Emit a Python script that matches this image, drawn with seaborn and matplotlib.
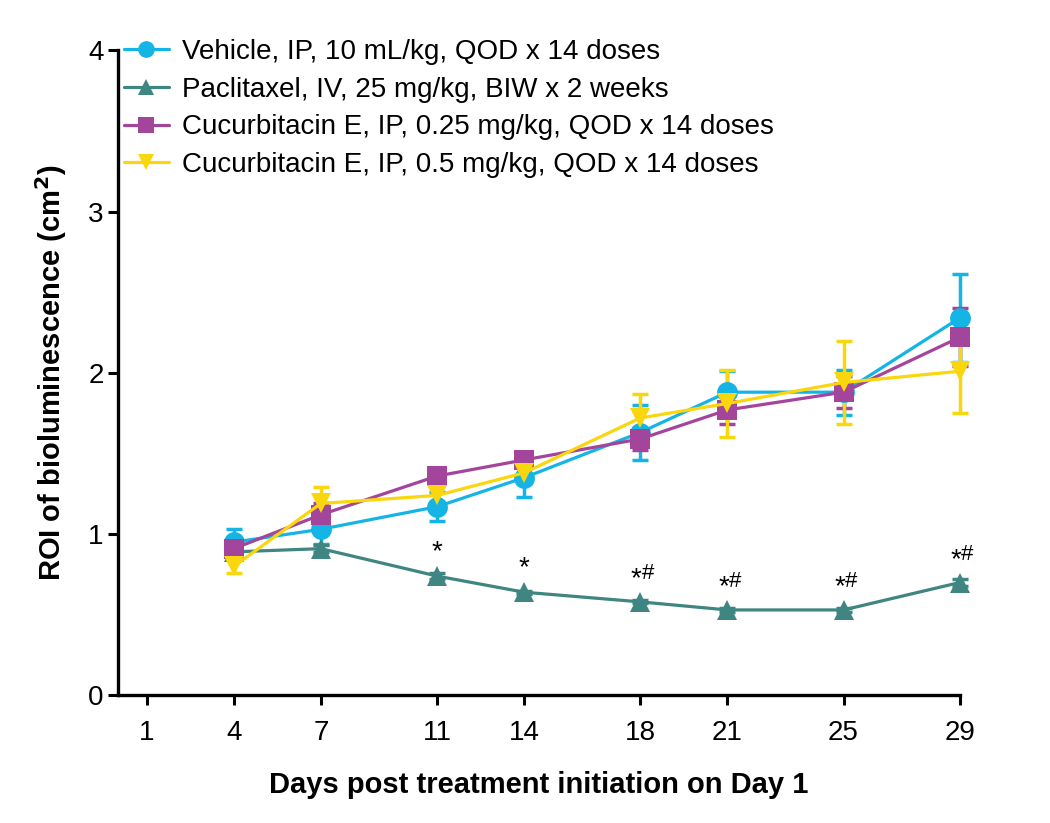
import matplotlib
matplotlib.use("Agg")
import matplotlib.pyplot as plt
import numpy as np
import pandas as pd
import seaborn as sns

# Datos
dias = [4, 7, 11, 14, 18, 21, 25, 29]
grupos = [
    "Vehicle, IP, 10 mL/kg, QOD x 14 doses",
    "Paclitaxel, IV, 25 mg/kg, BIW x 2 weeks",
    "Cucurbitacin E, IP, 0.25 mg/kg, QOD x 14 doses",
    "Cucurbitacin E, IP, 0.5 mg/kg, QOD x 14 doses",
]
vehiculo = [0.95, 1.03, 1.17, 1.35, 1.63, 1.88, 1.88, 2.34]
vehiculo_err = [0.08, 0.09, 0.09, 0.12, 0.17, 0.13, 0.14, 0.27]
paclitaxel = [0.89, 0.91, 0.74, 0.64, 0.58, 0.53, 0.53, 0.70]
paclitaxel_err = [0.02, 0.02, 0.02, 0.01, 0.01, 0.01, 0.01, 0.02]
cucur_025 = [0.91, 1.12, 1.36, 1.46, 1.59, 1.77, 1.88, 2.22]
cucur_025_err = [0.06, 0.07, 0.05, 0.05, 0.07, 0.09, 0.10, 0.18]
cucur_05 = [0.80, 1.19, 1.24, 1.38, 1.72, 1.81, 1.94, 2.01]
cucur_05_err = [0.04, 0.10, 0.06, 0.07, 0.15, 0.21, 0.26, 0.26]

ticks_x = [1, 4, 7, 11, 14, 18, 21, 25, 29]
anotaciones = ["", "", "*", "*", "*#", "*#", "*#", "*#"]

colores = ["#14B4E4", "#3F8581", "#A3459B", "#FAD60C"]
marcadores = ["o", "^", "s", "v"]

valores = [vehiculo, paclitaxel, cucur_025, cucur_05]
errores = [vehiculo_err, paclitaxel_err, cucur_025_err, cucur_05_err]

filas = []
for g, v in zip(grupos, valores):
    for d, y in zip(dias, v):
        filas.append({"dia": d, "roi": y, "grupo": g})
df = pd.DataFrame(filas)

sns.set_style("ticks")
plt.rcParams["font.family"] = ["Liberation Sans", "DejaVu Sans"]
plt.rcParams["text.color"] = "black"
plt.rcParams["axes.labelcolor"] = "black"
plt.rcParams["xtick.color"] = "black"
plt.rcParams["ytick.color"] = "black"
plt.rcParams["axes.edgecolor"] = "black"

fig = plt.figure(figsize=(10.5, 8.23), dpi=100)
ax = fig.add_axes([0.112, 0.155, 0.802, 0.784])

# barras de error primero (debajo de las lineas)
for v, e, c in zip(valores, errores, colores):
    ax.errorbar(dias, v, yerr=e, fmt="none", ecolor=c, elinewidth=2.5,
                capsize=5.5, capthick=2.5, zorder=2, clip_on=False)

sns.lineplot(data=df, x="dia", y="roi", hue="grupo", style="grupo",
             hue_order=grupos, style_order=grupos, palette=colores,
             markers=dict(zip(grupos, marcadores)), dashes=False,
             markersize=15, markeredgewidth=0, linewidth=2.3, ax=ax,
             zorder=3, clip_on=False)

# asteriscos y almohadillas sobre paclitaxel
for d, y, t in zip(dias, paclitaxel, anotaciones):
    if t == "*":
        ax.text(d, y + 0.07, "*", ha="center", va="bottom", fontsize=20)
    elif t == "*#":
        ax.text(d + 0.05, y + 0.06, "*", ha="right", va="bottom", fontsize=20)
        ax.text(d + 0.05, y + 0.11, "#", ha="left", va="bottom", fontsize=16)

ax.set_xlim(0, 29)
ax.set_ylim(0, 4)
ax.set_xticks(ticks_x)
ax.set_yticks([0, 1, 2, 3, 4])
ax.tick_params(axis="both", labelsize=20, width=2.2, length=7.5, direction="out")
ax.tick_params(axis="x", pad=10)
ax.tick_params(axis="y", pad=2.5)
for s in ["left", "bottom"]:
    ax.spines[s].set_linewidth(2.4)
sns.despine(ax=ax)

ax.set_xlabel("Days post treatment initiation on Day 1", fontsize=21,
              fontweight="bold", labelpad=18)
ax.set_ylabel("ROI of bioluminescence (cm$^\\mathbf{2}$)", fontsize=21,
              fontweight="bold", labelpad=14)

leg = ax.legend(loc="upper left", bbox_to_anchor=(-0.012, 1.043), frameon=False,
                fontsize=20, handlelength=1.6, handletextpad=0.5,
                labelspacing=0.42, borderaxespad=0.2, title=None)
for h in leg.legend_handles:
    h.set_markersize(12)

fig.savefig("out.png", dpi=100)
